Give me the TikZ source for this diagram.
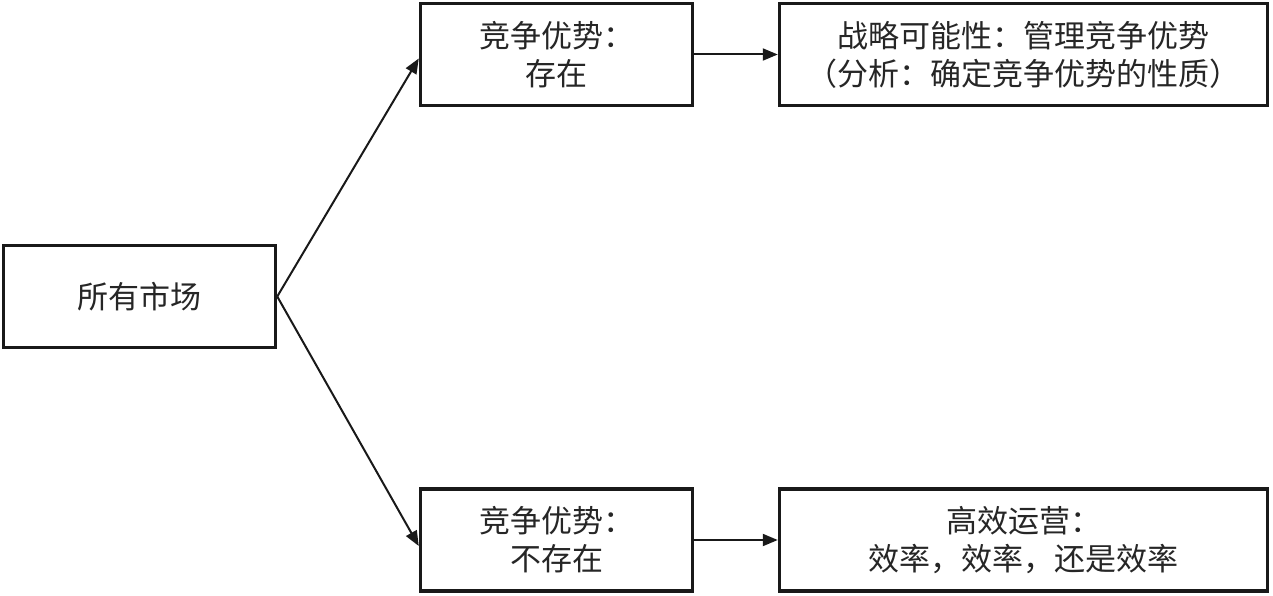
\documentclass[tikz,border=0pt]{standalone}
\usepackage{fontspec}
\newfontfamily\cjk{Noto Sans CJK SC}
\usetikzlibrary{arrows.meta}
\tikzset{
  box/.style={draw=black!90, line width=3.5pt, rectangle, inner sep=0pt,
    minimum height=102pt, align=center, font=\cjk\fontsize{31}{38}\selectfont, text=black!85},
  conn/.style={line width=2pt, draw=black!90, -{Triangle[length=15pt,width=12pt]}}
}
\begin{document}
\begin{tikzpicture}[x=1pt,y=-1pt]
\useasboundingbox (0,0) rectangle (1273,596);
\node[box, minimum width=272pt] (A) at (139.5,296.5) {所有市场};
\node[box, minimum width=272pt] (B) at (556.5,54.5) {竞争优势：\\存在};
\node[box, minimum width=488pt] (C) at (1023.5,54.5) {战略可能性：管理竞争优势\\（分析：确定竞争优势的性质）};
\node[box, minimum width=272pt] (D) at (556.5,540) {竞争优势：\\不存在};
\node[box, minimum width=488pt] (E) at (1023.5,540) {高效运营：\\效率，效率，还是效率};
\draw[conn] (A.east) -- ([yshift=-4pt]B.west);
\draw[conn] (A.east) -- ([yshift=-6pt]D.west);
\draw[conn] (B.east) -- (C.west);
\draw[conn] (D.east) -- (E.west);
\end{tikzpicture}
\end{document}
